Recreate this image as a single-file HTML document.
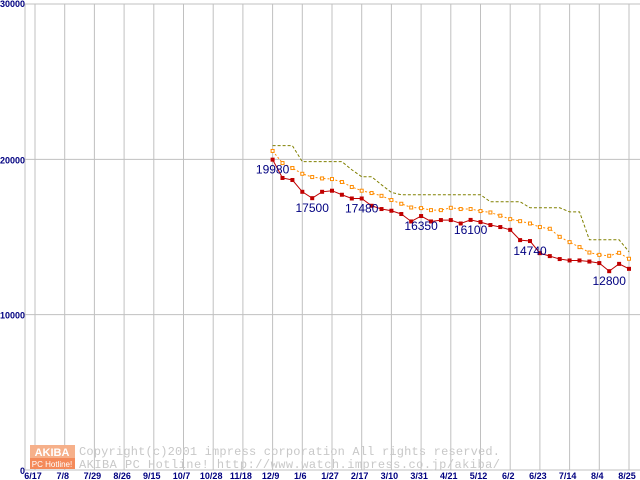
<!DOCTYPE html>
<html><head><meta charset="utf-8"><style>
body{margin:0;background:#fff}
svg{display:block}
text{font-family:"Liberation Sans",sans-serif}
</style></head><body>
<svg id="chart" width="640" height="480" xmlns="http://www.w3.org/2000/svg">
<g id="grid"></g>
<g id="axes"></g>
<g id="watermark">
 <rect x="30" y="445" width="45" height="13" fill="#f6b08a"/>
 <text x="52" y="456" font-size="11" font-weight="bold" fill="#fff" text-anchor="middle">AKIBA</text>
 <rect x="30" y="458" width="45" height="11" fill="#f48a5a"/>
 <text x="52" y="467" font-size="8" fill="#fff" text-anchor="middle">PC Hotline!</text>
 <text x="79" y="455" font-size="12" fill="#c8c8c8" textLength="421" lengthAdjust="spacing" style="font-family:'Liberation Mono',monospace">Copyright(c)2001 impress corporation All rights reserved.</text>
 <text x="79" y="468" font-size="12" fill="#c8c8c8" textLength="421" lengthAdjust="spacing" style="font-family:'Liberation Mono',monospace">AKIBA PC Hotline!  http://www.watch.impress.co.jp/akiba/</text>
</g>
<g id="series"></g>
</svg>
<script>
const xLabels=["6/17","7/8","7/29","8/26","9/15","10/7","10/28","11/18","12/9","1/6","1/27","2/17","3/10","3/31","4/21","5/12","6/2","6/23","7/14","8/4","8/25"];
const yTicks=[0,10000,20000,30000];
const minPrice=[19980,18800,18670,17910,17500,17910,17980,17720,17480,17480,17010,16800,16690,16480,16000,16350,16000,16090,16090,15870,16100,15960,15770,15640,15460,14800,14740,13960,13770,13580,13490,13490,13420,13320,12800,13270,12950];
const avgPrice=[20540,19760,19440,19070,18860,18770,18730,18540,18220,17980,17830,17650,17380,17140,16900,16860,16730,16730,16880,16800,16800,16670,16580,16370,16150,16020,15870,15640,15530,15010,14670,14350,14000,13850,13790,13980,13600];
const maxPrice=[20880,20880,20880,19850,19850,19850,19850,19850,19330,18880,18880,18360,17870,17720,17720,17720,17720,17720,17720,17720,17720,17720,17270,17270,17270,17270,16880,16880,16880,16880,16620,16620,14820,14820,14820,14820,14050];
const labelIdx=[0,4,9,15,20,26,34];
const labelText=["19980","17500","17480","16350","16100","14740","12800"];
const NS="http://www.w3.org/2000/svg";
const X0=35,GS=29.7,START=8;
function xg(k){return X0+k*GS;}
function xw(i){return xg(START)+i*GS/3;}
function y(v){return 470-v*(466/30000);}
function el(t,a,p){const e=document.createElementNS(NS,t);for(const k in a)e.setAttribute(k,a[k]);p.appendChild(e);return e;}
const grid=document.getElementById('grid'),axes=document.getElementById('axes'),ser=document.getElementById('series');
xLabels.forEach((l,k)=>{
 const ln=el('line',{x1:xg(k),x2:xg(k),y1:4,y2:470,stroke:'#c0c0c0','stroke-width':1},grid);
 
 
 const t=el('text',{x:xg(k)-2,y:479,'font-size':9,fill:'#000080','text-anchor':'middle','font-weight':'bold'},axes);
 t.textContent=l;
 
 
});
yTicks.forEach(v=>{
 const ln=el('line',{x1:25,x2:640,y1:y(v),y2:y(v),stroke:'#c0c0c0','stroke-width':1},grid);
 
 
 const t=el('text',{x:25,y:y(v)+(v===30000?3:4),'font-size':9,fill:'#000080','text-anchor':'end','font-weight':'bold'},axes);
 t.textContent=v;
 
 
});
const ax=el('line',{x1:25,x2:25,y1:4,y2:470,stroke:'#c0c0c0'},axes);


function pts(a){return a.map((v,i)=>xw(i)+','+y(v)).join(' ');}
const maxL=el('polyline',{points:pts(maxPrice),fill:'none',stroke:'#808000','stroke-width':1,'stroke-dasharray':'3,2'},ser);


const avgL=el('polyline',{points:pts(avgPrice),fill:'none',stroke:'#ff8c00','stroke-width':1,'stroke-dasharray':'2,2'},ser);


avgPrice.forEach((v,i)=>{
 const r=el('rect',{x:xw(i)-1.5,y:y(v)-1.5,width:3,height:3,fill:'#fff',stroke:'#ff8c00','stroke-width':1},ser);
 
 
});
const minL=el('polyline',{points:pts(minPrice),fill:'none',stroke:'#c00000','stroke-width':1},ser);


minPrice.forEach((v,i)=>{
 const r=el('rect',{x:xw(i)-2,y:y(v)-2,width:4,height:4,fill:'#c00000'},ser);
 
 
});
labelIdx.forEach((i,j)=>{
 const t=el('text',{x:xw(i),y:y(minPrice[i])+14,'font-size':12,fill:'#000080','text-anchor':'middle'},ser);
 t.textContent=labelText[j];
 
 
});
</script>
</body></html>
